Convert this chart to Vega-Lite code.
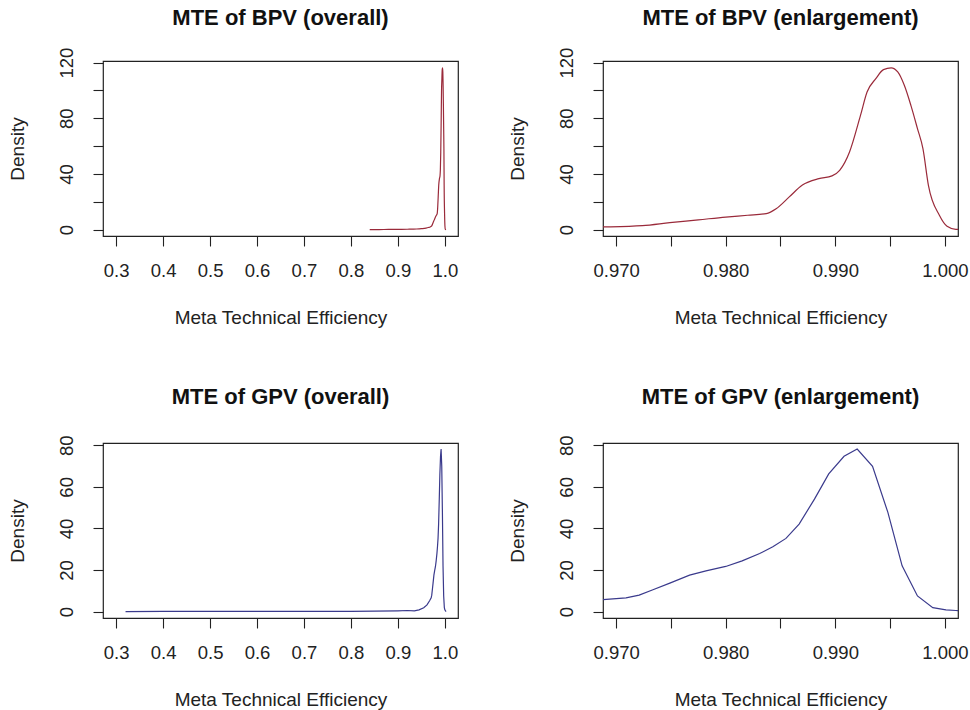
{
  "$schema": "https://vega.github.io/schema/vega-lite/v6.json",
  "padding": {"left": 7, "top": 6, "right": 5, "bottom": 5},
  "background": "white",
  "bounds": "flush",
  "columns": 2,
  "spacing": {"row": 207, "column": 145},
  "config": {
    "font": "Liberation Sans",
    "view": {"stroke": "#222222", "strokeWidth": 1.2},
    "axis": {
      "domain": false,
      "grid": false,
      "ticks": true,
      "tickColor": "#222222",
      "tickSize": 10,
      "tickWidth": 1.1,
      "labelColor": "#222222",
      "labelFont": "Liberation Sans",
      "labelFontSize": 18.5,
      "labelFontWeight": "normal",
      "labelOverlap": false,
      "labelFlush": false,
      "labelBound": false,
      "titleColor": "#222222",
      "titleFont": "Liberation Sans",
      "titleFontSize": 19,
      "titleFontWeight": "normal"
    },
    "axisX": {"labelPadding": 15.5, "labelBaseline": "top", "titleBaseline": "alphabetic", "titleY": 87},
    "axisY": {"labelAngle": -90, "labelAlign": "center", "labelBaseline": "alphabetic", "labelPadding": 21, "titleBaseline": "alphabetic", "titleAngle": -90, "titleX": -80},
    "title": {"font": "Liberation Sans", "fontSize": 22, "fontWeight": "bold", "color": "#111111", "anchor": "middle", "frame": "group", "baseline": "alphabetic"}
  },
  "datasets": {
    "bpv": [
      {"x": 0.840, "density": 0.0},
      {"x": 0.860, "density": 0.05},
      {"x": 0.880, "density": 0.1},
      {"x": 0.900, "density": 0.15},
      {"x": 0.920, "density": 0.25},
      {"x": 0.940, "density": 0.45},
      {"x": 0.950, "density": 0.7},
      {"x": 0.960, "density": 1.1},
      {"x": 0.965, "density": 1.5},
      {"x": 0.9688, "density": 1.9},
      {"x": 0.9724, "density": 2.9},
      {"x": 0.9749, "density": 5.0},
      {"x": 0.9775, "density": 7.0},
      {"x": 0.9800, "density": 9.0},
      {"x": 0.9820, "density": 10.3},
      {"x": 0.9837, "density": 11.5},
      {"x": 0.9846, "density": 15.0},
      {"x": 0.9858, "density": 23.5},
      {"x": 0.9870, "density": 32.0},
      {"x": 0.9885, "density": 36.6},
      {"x": 0.9897, "density": 38.6},
      {"x": 0.9904, "density": 42.6},
      {"x": 0.9913, "density": 55.8},
      {"x": 0.9923, "density": 82.1},
      {"x": 0.9929, "density": 98.9},
      {"x": 0.9937, "density": 108.5},
      {"x": 0.9944, "density": 115.0},
      {"x": 0.9951, "density": 116.2},
      {"x": 0.9957, "density": 113.3},
      {"x": 0.9963, "density": 103.7},
      {"x": 0.9969, "density": 89.3},
      {"x": 0.9975, "density": 72.6},
      {"x": 0.9980, "density": 58.2},
      {"x": 0.9985, "density": 31.8},
      {"x": 0.9995, "density": 10.3},
      {"x": 1.0002, "density": 2.4},
      {"x": 1.0010, "density": 0.2},
      {"x": 1.0025, "density": 0.0}
    ],
    "gpv": [
      {"x": 0.320, "density": 0.0},
      {"x": 0.400, "density": 0.05},
      {"x": 0.500, "density": 0.05},
      {"x": 0.600, "density": 0.05},
      {"x": 0.700, "density": 0.08},
      {"x": 0.800, "density": 0.12},
      {"x": 0.850, "density": 0.2},
      {"x": 0.900, "density": 0.35},
      {"x": 0.920, "density": 0.5},
      {"x": 0.935, "density": 0.3},
      {"x": 0.945, "density": 0.8},
      {"x": 0.955, "density": 1.8},
      {"x": 0.962, "density": 3.2},
      {"x": 0.9675, "density": 5.2},
      {"x": 0.9709, "density": 6.6},
      {"x": 0.9721, "density": 7.9},
      {"x": 0.9733, "density": 10.4},
      {"x": 0.9749, "density": 13.7},
      {"x": 0.9767, "density": 17.5},
      {"x": 0.9782, "density": 19.6},
      {"x": 0.9800, "density": 21.7},
      {"x": 0.9815, "density": 24.4},
      {"x": 0.9831, "density": 27.9},
      {"x": 0.9843, "density": 31.2},
      {"x": 0.9855, "density": 35.2},
      {"x": 0.9867, "density": 42.1},
      {"x": 0.9881, "density": 54.1},
      {"x": 0.9894, "density": 66.2},
      {"x": 0.9908, "density": 74.7},
      {"x": 0.9920, "density": 78.2},
      {"x": 0.9934, "density": 69.9},
      {"x": 0.9948, "density": 47.7},
      {"x": 0.9961, "density": 22.0},
      {"x": 0.9975, "density": 7.5},
      {"x": 0.9989, "density": 1.9},
      {"x": 1.0001, "density": 0.8},
      {"x": 1.0010, "density": 0.5},
      {"x": 1.0025, "density": 0.0}
    ]
  },
  "concat": [
    {
      "title": {"text": "MTE of BPV (overall)", "offset": 17},
      "width": 355,
      "height": 175,
      "data": {"name": "bpv"},
      "mark": {"type": "line", "color": "#9a2a3a", "strokeWidth": 1.2, "clip": true, "interpolate": "monotone"},
      "encoding": {
        "x": {"field": "x", "type": "quantitative", "scale": {"domain": [0.272, 1.028], "nice": false, "zero": false},
          "axis": {"title": "Meta Technical Efficiency", "values": [0.3, 0.4, 0.5, 0.6, 0.7, 0.8, 0.9, 1.0], "format": ".1f"}},
        "y": {"field": "density", "type": "quantitative", "scale": {"domain": [-4.6, 121.2], "nice": false, "zero": false},
          "axis": {"title": "Density", "values": [0, 20, 40, 60, 80, 100, 120], "labelExpr": "datum.value % 40 === 0 ? datum.label : ''"}}
      }
    },
    {
      "title": {"text": "MTE of BPV (enlargement)", "offset": 17},
      "width": 355,
      "height": 175,
      "data": {"name": "bpv"},
      "mark": {"type": "line", "color": "#9a2a3a", "strokeWidth": 1.2, "clip": true, "interpolate": "monotone"},
      "encoding": {
        "x": {"field": "x", "type": "quantitative", "scale": {"domain": [0.9688, 1.0012], "nice": false, "zero": false},
          "axis": {"title": "Meta Technical Efficiency", "values": [0.970, 0.975, 0.980, 0.985, 0.990, 0.995, 1.000], "labelExpr": "round(datum.value * 1000) % 10 === 0 ? format(datum.value, '.3f') : ''"}},
        "y": {"field": "density", "type": "quantitative", "scale": {"domain": [-4.6, 121.2], "nice": false, "zero": false},
          "axis": {"title": "Density", "values": [0, 20, 40, 60, 80, 100, 120], "labelExpr": "datum.value % 40 === 0 ? datum.label : ''"}}
      }
    },
    {
      "title": {"text": "MTE of GPV (overall)", "offset": 26},
      "width": 355,
      "height": 175,
      "data": {"name": "gpv"},
      "mark": {"type": "line", "color": "#3a3a8c", "strokeWidth": 1.2, "clip": true},
      "encoding": {
        "x": {"field": "x", "type": "quantitative", "scale": {"domain": [0.272, 1.028], "nice": false, "zero": false},
          "axis": {"title": "Meta Technical Efficiency", "values": [0.3, 0.4, 0.5, 0.6, 0.7, 0.8, 0.9, 1.0], "format": ".1f"}},
        "y": {"field": "density", "type": "quantitative", "scale": {"domain": [-3.1, 81.1], "nice": false, "zero": false},
          "axis": {"title": "Density", "values": [0, 20, 40, 60, 80]}}
      }
    },
    {
      "title": {"text": "MTE of GPV (enlargement)", "offset": 26},
      "width": 355,
      "height": 175,
      "data": {"name": "gpv"},
      "mark": {"type": "line", "color": "#3a3a8c", "strokeWidth": 1.2, "clip": true},
      "encoding": {
        "x": {"field": "x", "type": "quantitative", "scale": {"domain": [0.9688, 1.0012], "nice": false, "zero": false},
          "axis": {"title": "Meta Technical Efficiency", "values": [0.970, 0.975, 0.980, 0.985, 0.990, 0.995, 1.000], "labelExpr": "round(datum.value * 1000) % 10 === 0 ? format(datum.value, '.3f') : ''"}},
        "y": {"field": "density", "type": "quantitative", "scale": {"domain": [-3.1, 81.1], "nice": false, "zero": false},
          "axis": {"title": "Density", "values": [0, 20, 40, 60, 80]}}
      }
    }
  ]
}
